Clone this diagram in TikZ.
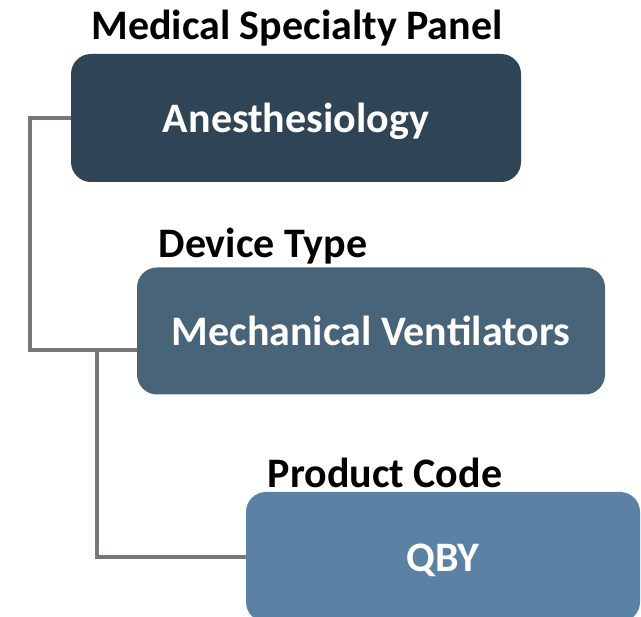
\documentclass[tikz,border=0pt]{standalone}
\usepackage{fontspec}
\setmainfont{Carlito}
\definecolor{boxA}{HTML}{2F4454}
\definecolor{boxB}{HTML}{486479}
\definecolor{boxC}{HTML}{5B82A4}
\definecolor{linkgray}{HTML}{7A7777}
\tikzset{
  x=1pt, y=-1pt,
  levelbox/.style={rounded corners=20pt, text=white, font=\fontsize{42}{48}\selectfont\bfseries,
    inner sep=0pt, text height=30pt, text depth=0pt},
  levelhead/.style={font=\fontsize{42}{48}\selectfont\bfseries, text=black, inner sep=0pt, anchor=base},
  link/.style={draw=linkgray, line width=3.5pt}
}
\begin{document}
\begin{tikzpicture}
\useasboundingbox (0,0) rectangle (641,617);
\clip (0,0) rectangle (641,617);
% hierarchy boxes
\node[levelbox, fill=boxA, minimum width=450pt, minimum height=128pt] (spec) at (296,118) {Anesthesiology};
\node[levelbox, fill=boxB, minimum width=468pt, minimum height=127pt] (dev) at (371,331) {Mechanical Ventilators};
\node[levelbox, fill=boxC, minimum width=394pt, minimum height=130pt] (code) at (443,557) {QBY};
% level headings
\node[levelhead] (h1) at (297,40) {Medical Specialty Panel};
\node[levelhead] (h2) at (263,258) {Device Type};
\node[levelhead] (h3) at (385,488) {Product Code};
% connectors
\coordinate (devin) at (dev.west |- 0,350);
\coordinate (branch) at (97,350);
\draw[link] (spec.west) -- ++(-41,0) |- (devin);
\draw[link] (branch) |- (code.west);
\end{tikzpicture}
\end{document}
